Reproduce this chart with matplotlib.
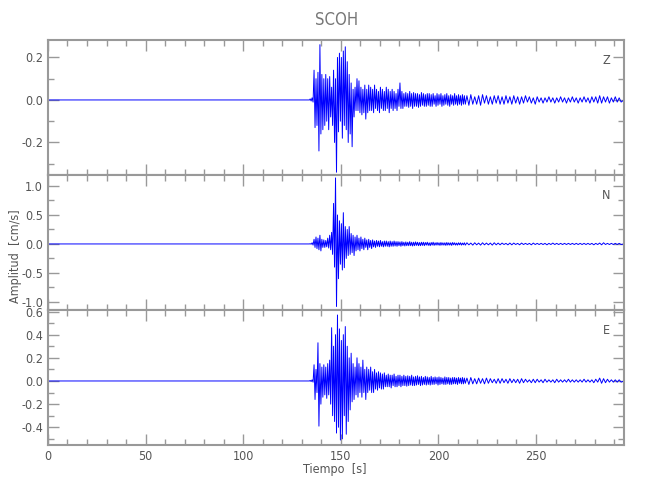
import numpy as np
import matplotlib
matplotlib.use("Agg")
import matplotlib.pyplot as plt
from matplotlib.ticker import MultipleLocator

# seismogram envelope
# strong motion part: one (max, min) pair per 1 s bin, starting at 134 s
t_strong0 = 134
z_hi = [0.005, 0.01, 0.14, 0.10, 0.13, 0.26, 0.12, 0.10, 0.12, 0.10,
        0.11, 0.06, 0.14, 0.10, 0.20, 0.22, 0.20, 0.23, 0.25, 0.18,
        0.12, 0.08, 0.05, 0.06, 0.10, 0.09, 0.06, 0.05, 0.07, 0.05,
        0.07, 0.06, 0.05, 0.07, 0.05, 0.04, 0.06, 0.05, 0.04, 0.06,
        0.05, 0.04, 0.05, 0.04, 0.03, 0.05, 0.08, 0.04, 0.03, 0.035,
        0.03, 0.04, 0.03, 0.035, 0.03, 0.03, 0.025, 0.035, 0.03, 0.025,
        0.03, 0.03, 0.025, 0.03, 0.02, 0.03, 0.025, 0.03, 0.02, 0.025,
        0.03, 0.02, 0.025, 0.02, 0.03, 0.02, 0.025, 0.02, 0.025, 0.02]
z_lo = [-0.005, -0.01, -0.13, -0.12, -0.24, -0.16, -0.14, -0.12, -0.10, -0.14,
        -0.08, -0.12, -0.20, -0.34, -0.15, -0.10, -0.18, -0.12, -0.14, -0.20,
        -0.16, -0.22, -0.08, -0.05, -0.05, -0.06, -0.07, -0.06, -0.09, -0.06,
        -0.05, -0.05, -0.06, -0.04, -0.05, -0.06, -0.04, -0.05, -0.05, -0.04,
        -0.06, -0.04, -0.05, -0.04, -0.05, -0.03, -0.04, -0.04, -0.03, -0.03,
        -0.035, -0.03, -0.04, -0.03, -0.03, -0.035, -0.03, -0.025, -0.03, -0.03,
        -0.025, -0.03, -0.03, -0.02, -0.03, -0.025, -0.02, -0.03, -0.025, -0.02,
        -0.025, -0.03, -0.02, -0.025, -0.02, -0.025, -0.02, -0.025, -0.02, -0.02]

n_hi = [0.005, 0.02, 0.08, 0.12, 0.10, 0.15, 0.08, 0.07, 0.06, 0.10,
        0.15, 0.20, 0.70, 1.14, 0.50, 0.40, 0.35, 0.54, 0.30, 0.25,
        0.30, 0.18, 0.15, 0.12, 0.15, 0.10, 0.12, 0.08, 0.10, 0.07,
        0.08, 0.06, 0.07, 0.05, 0.06, 0.05, 0.06, 0.04, 0.05, 0.05,
        0.04, 0.05, 0.04, 0.05, 0.04, 0.04, 0.035, 0.04, 0.03, 0.035,
        0.03, 0.04, 0.03, 0.03, 0.035, 0.03, 0.025, 0.03, 0.03, 0.025,
        0.03, 0.02, 0.025, 0.03, 0.02, 0.025, 0.02, 0.025, 0.02, 0.02,
        0.025, 0.02, 0.02, 0.025, 0.02, 0.015, 0.02, 0.02, 0.015, 0.02]
n_lo = [-0.005, -0.02, -0.06, -0.08, -0.10, -0.12, -0.06, -0.06, -0.05, -0.07,
        -0.10, -0.18, -0.40, -1.08, -0.60, -0.35, -0.45, -0.41, -0.25, -0.20,
        -0.18, -0.15, -0.20, -0.12, -0.10, -0.12, -0.08, -0.10, -0.06, -0.10,
        -0.06, -0.08, -0.05, -0.06, -0.04, -0.05, -0.04, -0.05, -0.04, -0.04,
        -0.05, -0.04, -0.04, -0.035, -0.04, -0.03, -0.04, -0.03, -0.035, -0.03,
        -0.03, -0.03, -0.035, -0.03, -0.025, -0.03, -0.03, -0.025, -0.03, -0.02,
        -0.025, -0.03, -0.02, -0.025, -0.02, -0.02, -0.025, -0.02, -0.02, -0.025,
        -0.02, -0.02, -0.025, -0.015, -0.02, -0.02, -0.015, -0.02, -0.015, -0.02]

e_hi = [0.005, 0.01, 0.14, 0.10, 0.33, 0.15, 0.12, 0.14, 0.12, 0.15,
        0.18, 0.46, 0.30, 0.40, 0.57, 0.45, 0.35, 0.40, 0.47, 0.30,
        0.20, 0.24, 0.15, 0.12, 0.20, 0.15, 0.12, 0.18, 0.10, 0.12,
        0.10, 0.12, 0.08, 0.10, 0.07, 0.08, 0.07, 0.06, 0.07, 0.05,
        0.06, 0.05, 0.05, 0.06, 0.04, 0.05, 0.05, 0.04, 0.05, 0.04,
        0.045, 0.04, 0.05, 0.035, 0.04, 0.045, 0.035, 0.04, 0.03, 0.04,
        0.035, 0.03, 0.04, 0.03, 0.035, 0.03, 0.035, 0.03, 0.025, 0.035,
        0.03, 0.03, 0.025, 0.03, 0.03, 0.025, 0.03, 0.025, 0.03, 0.025]
e_lo = [-0.005, -0.01, -0.16, -0.10, -0.39, -0.20, -0.14, -0.12, -0.15, -0.12,
        -0.20, -0.30, -0.35, -0.45, -0.40, -0.51, -0.50, -0.30, -0.46, -0.35,
        -0.25, -0.18, -0.16, -0.12, -0.14, -0.10, -0.14, -0.10, -0.16, -0.10,
        -0.08, -0.10, -0.10, -0.07, -0.08, -0.06, -0.07, -0.07, -0.05, -0.05,
        -0.05, -0.06, -0.04, -0.05, -0.05, -0.04, -0.05, -0.04, -0.04, -0.045,
        -0.04, -0.035, -0.04, -0.04, -0.035, -0.03, -0.04, -0.035, -0.03, -0.035,
        -0.03, -0.035, -0.03, -0.03, -0.025, -0.035, -0.03, -0.025, -0.03, -0.03,
        -0.025, -0.03, -0.03, -0.025, -0.025, -0.03, -0.02, -0.025, -0.025, -0.02]

# coda: one (max, min) pair per 2 s bin, starting at 214 s
t_coda0 = 214
z_coda_hi = [0.02, 0.025, 0.015, 0.02, 0.025, 0.02, 0.015, 0.02, 0.02, 0.015,
             0.02, 0.015, 0.02, 0.015, 0.015, 0.02, 0.015, 0.01, 0.015, 0.01,
             0.01, 0.015, 0.01, 0.01, 0.015, 0.01, 0.01, 0.015, 0.01, 0.01,
             0.015, 0.01, 0.015, 0.015, 0.02, 0.015, 0.015, 0.01, 0.015, 0.01]
z_coda_lo = [-0.025, -0.02, -0.02, -0.025, -0.015, -0.02, -0.02, -0.015, -0.02, -0.02,
             -0.015, -0.02, -0.015, -0.02, -0.015, -0.01, -0.015, -0.02, -0.01, -0.015,
             -0.01, -0.01, -0.015, -0.01, -0.01, -0.015, -0.01, -0.01, -0.015, -0.01,
             -0.01, -0.015, -0.01, -0.015, -0.015, -0.01, -0.015, -0.01, -0.01, -0.01]
n_coda_hi = [0.02, 0.015, 0.02, 0.015, 0.02, 0.015, 0.015, 0.02, 0.015, 0.015,
             0.01, 0.015, 0.015, 0.01, 0.015, 0.01, 0.01, 0.015, 0.01, 0.01,
             0.01, 0.01, 0.015, 0.01, 0.01, 0.01, 0.01, 0.01, 0.01, 0.01,
             0.01, 0.01, 0.01, 0.01, 0.015, 0.02, 0.01, 0.01, 0.01, 0.01]
n_coda_lo = [-0.015, -0.02, -0.015, -0.02, -0.015, -0.015, -0.02, -0.015, -0.015, -0.01,
             -0.015, -0.015, -0.01, -0.015, -0.01, -0.01, -0.015, -0.01, -0.01, -0.01,
             -0.015, -0.01, -0.01, -0.01, -0.01, -0.01, -0.01, -0.01, -0.01, -0.01,
             -0.01, -0.01, -0.015, -0.01, -0.015, -0.01, -0.01, -0.01, -0.01, -0.01]
e_coda_hi = [0.025, 0.03, 0.02, 0.025, 0.02, 0.025, 0.02, 0.015, 0.02, 0.02,
             0.015, 0.02, 0.015, 0.015, 0.02, 0.015, 0.01, 0.015, 0.015, 0.01,
             0.015, 0.01, 0.01, 0.015, 0.01, 0.01, 0.015, 0.01, 0.01, 0.01,
             0.015, 0.01, 0.01, 0.015, 0.025, 0.02, 0.015, 0.01, 0.01, 0.01]
e_coda_lo = [-0.03, -0.025, -0.025, -0.02, -0.025, -0.02, -0.015, -0.02, -0.02, -0.015,
             -0.02, -0.015, -0.015, -0.02, -0.015, -0.01, -0.015, -0.015, -0.01, -0.015,
             -0.01, -0.01, -0.015, -0.01, -0.01, -0.01, -0.01, -0.01, -0.01, -0.01,
             -0.01, -0.01, -0.015, -0.01, -0.02, -0.015, -0.01, -0.01, -0.01, -0.01]

components = ["Z", "N", "E"]
ylims = [(-0.353, 0.282), (-1.14, 1.19), (-0.553, 0.613)]
ymajor = [0.2, 0.5, 0.2]
yminor = [0.1, 0.25, 0.1]
t_end = 295


def build_trace(hi, lo, t0, dt):
    t = [0.0, float(t0)]
    a = [0.0, 0.0]
    for i in range(len(hi)):
        t += [t0 + i * dt + 0.3 * dt, t0 + i * dt + 0.8 * dt]
        a += [hi[i], lo[i]]
    return np.array(t), np.array(a)


traces = []
for hi, lo, ch, cl in [(z_hi, z_lo, z_coda_hi, z_coda_lo),
                       (n_hi, n_lo, n_coda_hi, n_coda_lo),
                       (e_hi, e_lo, e_coda_hi, e_coda_lo)]:
    t1, a1 = build_trace(hi, lo, t_strong0, 1)
    t2, a2 = build_trace(ch, cl, t_coda0, 2)
    traces.append((np.concatenate([t1, t2[2:], [t_end]]),
                   np.concatenate([a1, a2[2:], [0.0]])))

plt.rcParams["font.family"] = "DejaVu Sans"
plt.rcParams["font.stretch"] = "condensed"

gray = "#999999"
txt = "#555555"

fig = plt.figure(figsize=(6.5, 5), dpi=100)
bottoms = [0.65, 0.38, 0.11]
for k in range(3):
    ax = fig.add_axes([0.0738, bottoms[k], 0.886, 0.27])
    t, a = traces[k]
    ax.plot(t, a, color="#0000ff", lw=0.7)
    ax.set_xlim(0, t_end)
    ax.set_ylim(*ylims[k])
    ax.xaxis.set_major_locator(MultipleLocator(50))
    ax.xaxis.set_minor_locator(MultipleLocator(10))
    ax.yaxis.set_major_locator(MultipleLocator(ymajor[k]))
    ax.yaxis.set_minor_locator(MultipleLocator(yminor[k]))
    ax.tick_params(which="both", direction="in", top=True, right=True,
                   color=gray, labelcolor=txt, labelsize=9)
    ax.tick_params(which="major", length=8, width=1)
    ax.tick_params(which="minor", length=4, width=1)
    for s in ax.spines.values():
        s.set_color(gray)
        s.set_linewidth(1.5)
    ax.yaxis.set_major_formatter(plt.FormatStrFormatter("%.1f"))
    if k < 2:
        ax.tick_params(labelbottom=False)
    ax.text(0.969, 0.85, components[k], transform=ax.transAxes,
            ha="center", va="center", color=txt, fontsize=9)

fig.text(0.518, 0.96, "SCOH", ha="center", va="center", color="#777777", fontsize=12)
fig.text(0.515, 0.062, "Tiempo  [s]", ha="center", va="center", color=txt, fontsize=9)
fig.text(0.024, 0.488, "Amplitud  [cm/s]", ha="center", va="center",
         rotation=90, color=txt, fontsize=9)

fig.savefig("out.png", dpi=100)
